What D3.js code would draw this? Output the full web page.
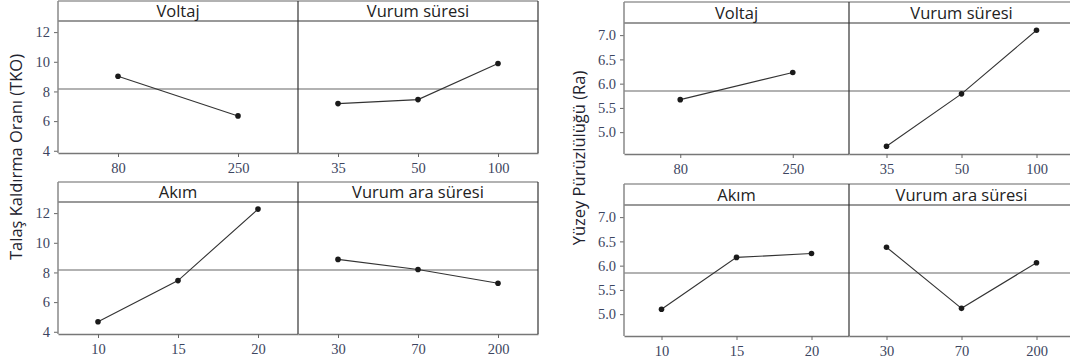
<!DOCTYPE html>
<html>
<head>
<meta charset="utf-8">
<script src="https://cdn.jsdelivr.net/npm/d3@7"></script>
<style>
  html, body { margin: 0; padding: 0; background: #fff; }
  svg { display: block; }
</style>
</head>
<body>
<div id="root"><svg></svg></div>
<script>
const width = 1070, height = 363;

const factors = ['Voltaj', 'Vurum süresi', 'Akım', 'Vurum ara süresi'];
const levels = [['80', '250'], ['35', '50', '100'], ['10', '15', '20'], ['30', '70', '200']];

const tkoValues = [[9.02, 6.35], [7.18, 7.45, 9.88], [4.68, 7.45, 12.27], [8.88, 8.2, 7.27]];
const tkoMean = 8.17;
const tkoTicks = [4, 6, 8, 10, 12];

const raValues = [[5.67, 6.23], [4.71, 5.79, 7.1], [5.1, 6.17, 6.25], [6.38, 5.12, 6.06]];
const raMean = 5.85;
const raTicks = [5.0, 5.5, 6.0, 6.5, 7.0];

const svg = d3.select('#root').select('svg')
    .attr('width', width)
    .attr('height', height);

function drawChart(cfg) {
    const g = svg.append('g');
    const y = d3.scaleLinear().domain(cfg.domain).range([cfg.plotH, 0]);

    cfg.rowTops.forEach((top, row) => {
        const plotTop = top + cfg.headH;
        const axisY = plotTop + cfg.plotH;
        const rowG = g.append('g');

        // y axis ticks
        const yAxis = d3.axisLeft(y).tickValues(cfg.ticks).tickSize(4)
            .tickFormat(cfg.fmt);
        const ya = rowG.append('g')
            .attr('transform', `translate(${cfg.x0},${plotTop})`)
            .call(yAxis);
        ya.select('.domain').remove();
        ya.selectAll('line').attr('stroke', '#666');
        ya.selectAll('text')
            .attr('font-family', '"Liberation Serif", serif')
            .attr('font-size', 14.5)
            .attr('fill', '#3c4560')
            .attr('dx', -1);

        [0, 1].forEach(col => {
            const idx = row * 2 + col;
            const px = cfg.x0 + col * cfg.panelW;
            const x = d3.scalePoint().domain(levels[idx])
                .range([px, px + cfg.panelW]).padding(0.5);

            // reference line (mean)
            rowG.append('line')
                .attr('x1', px).attr('x2', px + cfg.panelW)
                .attr('y1', plotTop + y(cfg.mean)).attr('y2', plotTop + y(cfg.mean))
                .attr('stroke', '#999').attr('stroke-width', 1.6);

            // header
            rowG.append('line')
                .attr('x1', px).attr('x2', px + cfg.panelW)
                .attr('y1', plotTop).attr('y2', plotTop)
                .attr('stroke', '#777').attr('stroke-width', 1.6);
            rowG.append('line')
                .attr('x1', px).attr('x2', px + cfg.panelW)
                .attr('y1', top).attr('y2', top)
                .attr('stroke', '#999').attr('stroke-width', 1.4);
            rowG.append('text')
                .attr('x', px + cfg.panelW / 2)
                .attr('y', top + cfg.headH - 4)
                .attr('text-anchor', 'middle')
                .attr('font-family', '"Open Sans", sans-serif')
                .attr('font-size', 16.5)
                .attr('fill', '#222')
                .text(factors[idx]);

            // x axis
            const xAxis = d3.axisBottom(x).tickSize(4).tickSizeOuter(0);
            const xa = rowG.append('g')
                .attr('transform', `translate(0,${axisY})`)
                .call(xAxis);
            xa.select('.domain').attr('stroke', '#777').attr('stroke-width', 1.5);
            xa.selectAll('line').attr('stroke', '#666');
            xa.selectAll('text')
                .attr('font-family', '"Liberation Serif", serif')
                .attr('font-size', 14.5)
                .attr('fill', '#3c4560')
                .attr('dy', '0.9em');

            // vertical frame line
            rowG.append('line')
                .attr('x1', px).attr('x2', px)
                .attr('y1', top).attr('y2', axisY)
                .attr('stroke', col === 0 ? '#888' : '#333')
                .attr('stroke-width', col === 0 ? 1.5 : 1.2);

            // line + points
            const vals = cfg.values[idx];
            const line = d3.line()
                .x((d, i) => x(levels[idx][i]))
                .y(d => plotTop + y(d));
            rowG.append('path')
                .datum(vals)
                .attr('d', line)
                .attr('fill', 'none')
                .attr('stroke', '#333')
                .attr('stroke-width', 1.1);
            rowG.selectAll(null)
                .data(vals)
                .enter()
                .append('circle')
                .attr('cx', (d, i) => x(levels[idx][i]))
                .attr('cy', d => plotTop + y(d))
                .attr('r', 2.8)
                .attr('fill', '#1a1a1a');
        });

        // right frame line
        rowG.append('line')
            .attr('x1', cfg.x0 + 2 * cfg.panelW).attr('x2', cfg.x0 + 2 * cfg.panelW)
            .attr('y1', top).attr('y2', axisY)
            .attr('stroke', '#333').attr('stroke-width', 1.2);
    });

    // y axis title
    g.append('text')
        .attr('transform', `translate(${cfg.titleX},${cfg.titleY}) rotate(-90)`)
        .attr('text-anchor', 'middle')
        .attr('font-family', '"Open Sans", sans-serif')
        .attr('font-size', 16.5)
        .attr('fill', '#22222e')
        .text(cfg.title);
}

drawChart({
    x0: 58, panelW: 240, rowTops: [1, 182], headH: 20, plotH: 132,
    domain: [3.85, 12.75], ticks: tkoTicks, fmt: d3.format('d'),
    values: tkoValues, mean: tkoMean,
    title: 'Talaş Kaldırma Oranı (TKO)', titleX: 22, titleY: 157
});

drawChart({
    x0: 624, panelW: 225, rowTops: [2, 184], headH: 21, plotH: 131,
    domain: [4.55, 7.25], ticks: raTicks, fmt: d3.format('.1f'),
    values: raValues, mean: raMean,
    title: 'Yüzey Pürüzlülüğü (Ra)', titleX: 585, titleY: 158
});
</script>
</body>
</html>
